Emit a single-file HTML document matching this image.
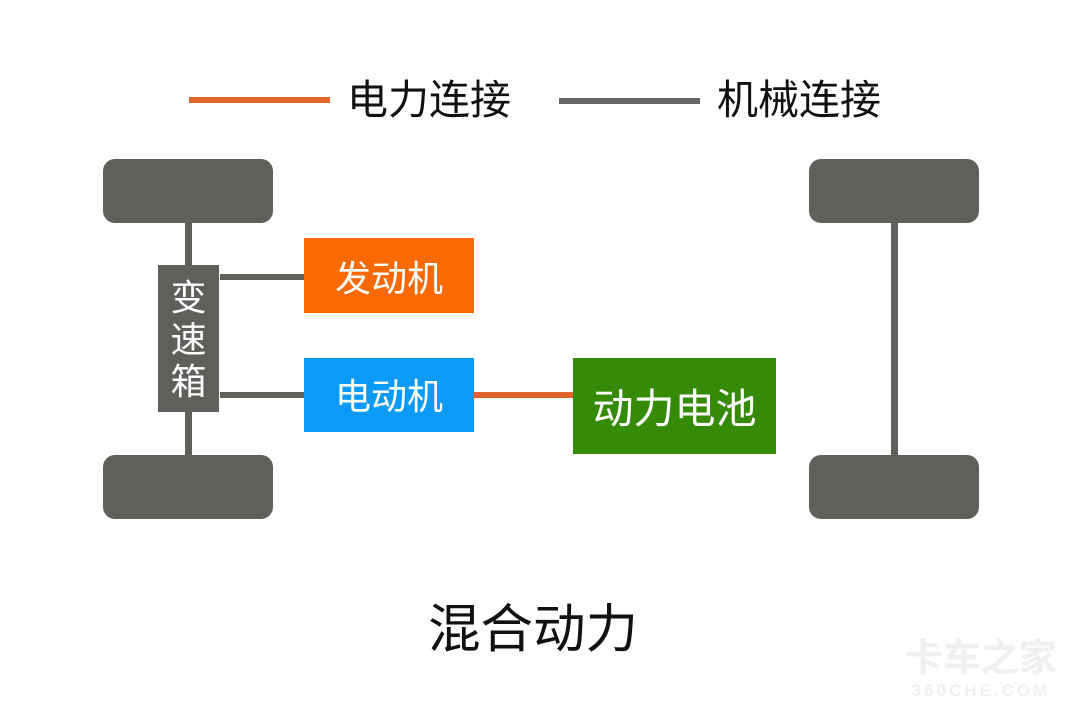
<!DOCTYPE html>
<html lang="zh">
<head>
<meta charset="utf-8">
<style>
html,body{margin:0;padding:0;background:#fff}
#c{position:relative;width:1080px;height:720px;overflow:hidden;background:#fff;font-family:"Liberation Sans","Noto Sans CJK SC",sans-serif}
#c div{position:absolute}
.w{width:170px;height:64px;background:#605f5c;border-radius:12px}
.l{background:#605f5c}
.t{white-space:nowrap;text-align:center;line-height:1;font-weight:400}
</style>
</head>
<body>
<div id="c">
<div style="left:189px;top:97px;width:141px;height:6px;background:#e0662a"></div>
<div class="t" style="left:347px;top:80px;width:164px;font-size:41px;color:#111">电力连接</div>
<div style="left:559px;top:98px;width:141px;height:6px;background:#666"></div>
<div class="t" style="left:717px;top:80px;width:164px;font-size:41px;color:#111">机械连接</div>

<div class="l" style="left:185px;top:223px;width:7px;height:232px"></div>
<div class="w" style="left:103px;top:159px"></div>
<div class="w" style="left:103px;top:455px"></div>
<div class="l" style="left:158px;top:265px;width:61px;height:147px"></div>
<div class="t" style="left:158px;top:277px;width:61px;font-size:36px;line-height:42px;color:#fff;white-space:normal">变<br>速<br>箱</div>

<div class="l" style="left:220px;top:274px;width:85px;height:6px"></div>
<div class="l" style="left:220px;top:392px;width:85px;height:6px"></div>
<div style="left:304px;top:238px;width:170px;height:75px;background:#fb6a02"></div>
<div class="t" style="left:304px;top:261px;width:170px;font-size:36px;color:#fff">发动机</div>
<div style="left:304px;top:358px;width:170px;height:74px;background:#0a9bf9"></div>
<div class="t" style="left:304px;top:379px;width:170px;font-size:36px;color:#fff">电动机</div>

<div style="left:474px;top:392px;width:99px;height:6px;background:#e0622c"></div>
<div style="left:573px;top:358px;width:203px;height:96px;background:#358a06"></div>
<div class="t" style="left:573px;top:389px;width:203px;font-size:41px;color:#fff">动力电池</div>

<div class="l" style="left:891px;top:223px;width:7px;height:232px"></div>
<div class="w" style="left:809px;top:159px"></div>
<div class="w" style="left:809px;top:455px"></div>

<div class="t" style="left:428px;top:604px;width:210px;font-size:52.5px;color:#111">混合动力</div>

<div class="t" style="left:904px;top:640px;width:154px;font-size:38px;font-weight:700;color:#f0f0f0">卡车之家</div>
<div class="t" style="left:904px;top:682px;width:154px;font-size:17px;font-weight:700;letter-spacing:3px;color:#f0f0f0">360CHE.COM</div>
</div>
</body>
</html>
